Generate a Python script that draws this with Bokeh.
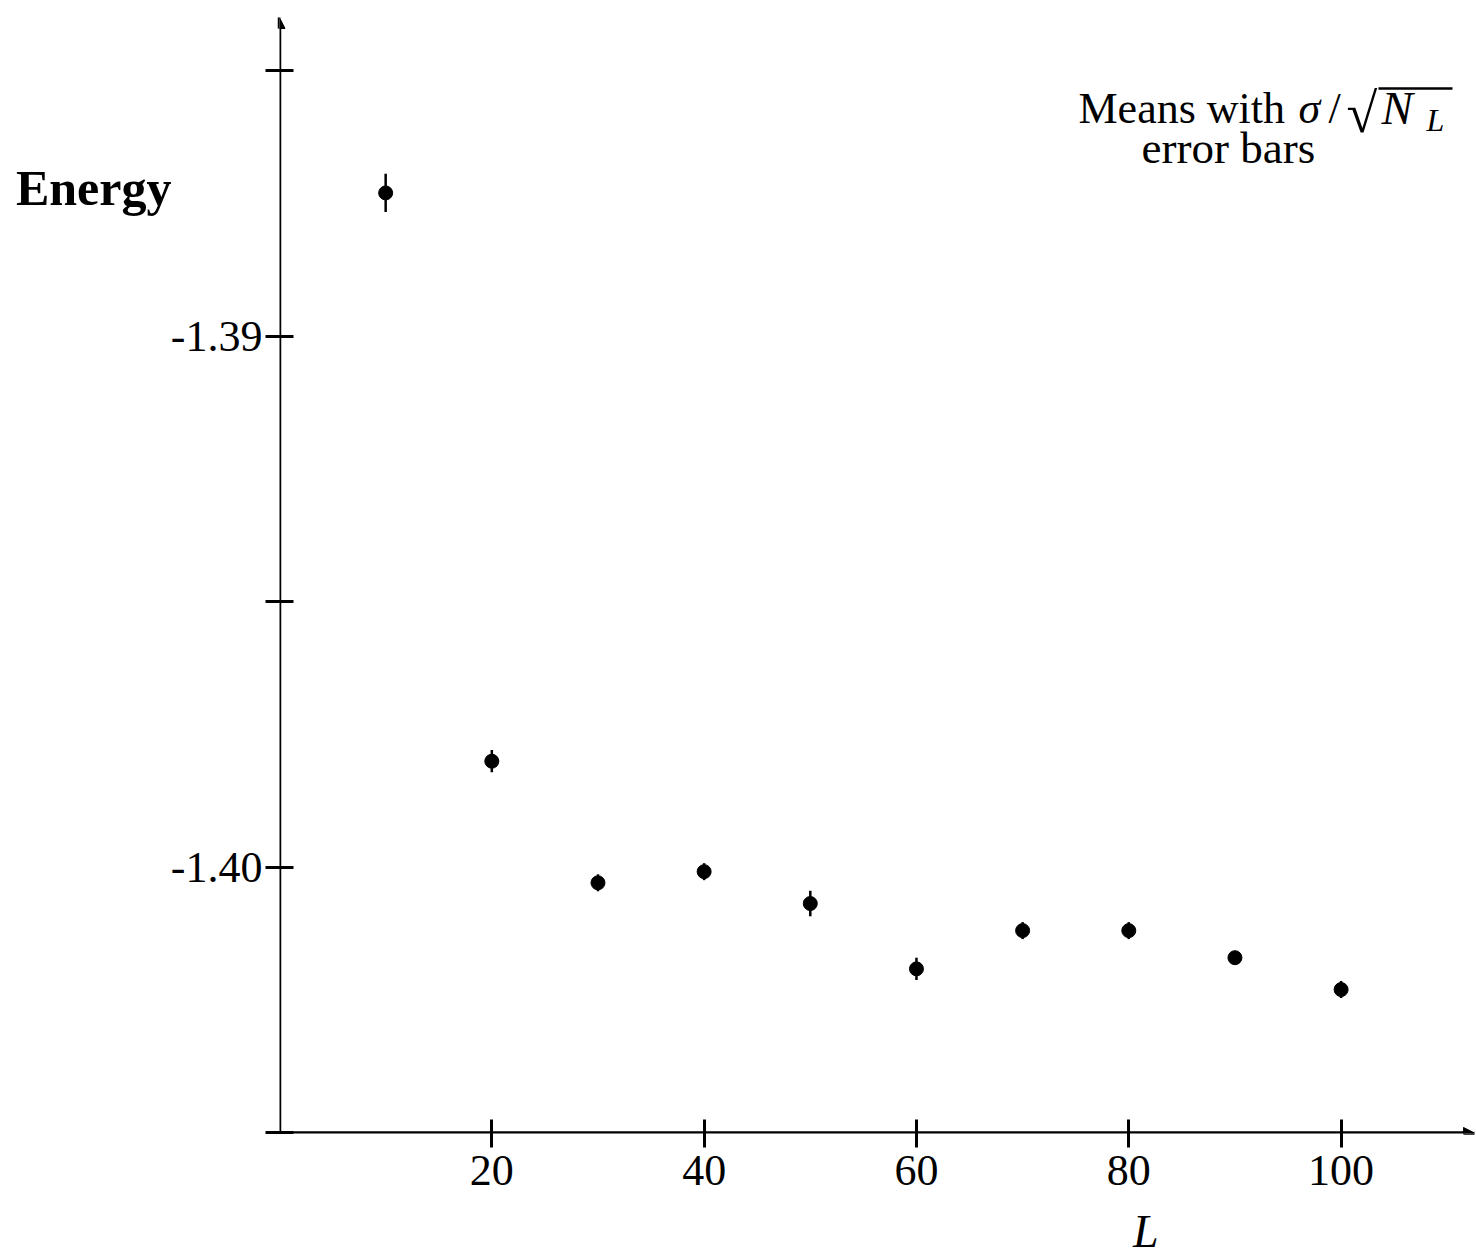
from bokeh.plotting import figure
from bokeh.models import (Range1d, FixedTicker, Label, Arrow, NormalHead,
                          PrintfTickFormatter, LinearAxis)
from bokeh.embed import file_html
from bokeh.resources import INLINE

# ---- data ----
L_values = [10, 20, 30, 40, 50, 60, 70, 80, 90, 100]
energy_means = [-1.38730, -1.39800, -1.40029, -1.40008, -1.40068,
                -1.40191, -1.40119, -1.40119, -1.40170, -1.40230]
energy_errors = [0.00036, 0.00021, 0.00016, 0.00016, 0.00024,
                 0.00021, 0.00016, 0.00016, 0.00010, 0.00016]
x_ticks = [20, 40, 60, 80, 100]
y_major_ticks = [-1.39, -1.40]
y_minor_ticks = [-1.385, -1.395, -1.405]
y_label_text = "Energy"
y_label_at = -1.3872
x_label_text = "L"
x_label_at = 81.6

# ---- layout ----
W, H = 1476, 1260
BL, BR, BT, BB = 279, 2, 17, 127
X0 = 0.0
X1 = (W - BL - BR) / 10.616
Y0 = -1.40501
Y1 = Y0 + (H - BT - BB) / 53110.0
FONT = "Liberation Serif"

def fx(px):  # pixel x -> data x (for text placement)
    return X0 + (px - BL) / (W - BL - BR) * (X1 - X0)

def fy(py):  # pixel y -> data y (for text placement)
    return Y1 - (py - BT) / (H - BT - BB) * (Y1 - Y0)

p = figure(width=W, height=H, x_range=Range1d(X0, X1), y_range=Range1d(Y0, Y1),
           output_backend="svg", toolbar_location=None,
           min_border_left=BL, min_border_right=BR, min_border_top=BT, min_border_bottom=BB)
p.title.visible = False
p.outline_line_color = None
p.xgrid.visible = False
p.ygrid.visible = False
p.background_fill_color = "white"
p.border_fill_color = "white"

# x axis
xa = p.xaxis[0]
xa.ticker = FixedTicker(ticks=x_ticks)
xa.formatter = PrintfTickFormatter(format="%d")
xa.axis_line_color = None
xa.major_tick_in = 14
xa.major_tick_out = 14
xa.major_tick_line_width = 3
xa.major_tick_line_color = "black"
xa.minor_tick_line_color = None
xa.major_label_text_font = FONT
xa.major_label_text_font_size = "44px"
xa.major_label_text_color = "black"
xa.major_label_standoff = 8

# y axis
ya = p.yaxis[0]
ya.ticker = FixedTicker(ticks=y_major_ticks, minor_ticks=y_minor_ticks)
ya.formatter = PrintfTickFormatter(format="%.2f")
ya.axis_line_color = None
ya.major_tick_in = 14
ya.major_tick_out = 14
ya.minor_tick_in = 14
ya.minor_tick_out = 14
ya.major_tick_line_width = 3
ya.minor_tick_line_width = 3
ya.major_tick_line_color = "black"
ya.minor_tick_line_color = "black"
ya.major_label_text_font = FONT
ya.major_label_text_font_size = "44px"
ya.major_label_text_color = "black"
ya.major_label_standoff = 3

# "Energy" label: an outer left axis with a single labelled tick
ey = LinearAxis(ticker=FixedTicker(ticks=[y_label_at]),
                formatter=PrintfTickFormatter(format=y_label_text))
ey.axis_line_color = None
ey.major_tick_line_color = None
ey.minor_tick_line_color = None
ey.major_label_standoff = -10
ey.major_label_text_font = FONT
ey.major_label_text_font_size = "50px"
ey.major_label_text_font_style = "bold"
ey.major_label_text_color = "black"
p.add_layout(ey, "left")

# "L" label: an outer bottom axis with a single labelled tick
ex = LinearAxis(ticker=FixedTicker(ticks=[x_label_at]),
                formatter=PrintfTickFormatter(format=x_label_text))
ex.axis_line_color = None
ex.major_tick_line_color = None
ex.minor_tick_line_color = None
ex.major_label_standoff = 12
ex.major_label_text_font = FONT
ex.major_label_text_font_size = "46px"
ex.major_label_text_font_style = "italic"
ex.major_label_text_color = "black"
p.add_layout(ex, "below")

# axis lines with arrow heads
p.add_layout(Arrow(end=NormalHead(size=11, fill_color="black", line_color="black", line_width=1),
                   x_start=0, y_start=Y0, x_end=0, y_end=Y1, line_width=3.5, line_color="black"))
p.add_layout(Arrow(end=NormalHead(size=11, fill_color="black", line_color="black", line_width=1),
                   x_start=0, y_start=-1.405, x_end=X1, y_end=-1.405, line_width=3.5, line_color="black"))

# error bars and means
lower = [m - e for m, e in zip(energy_means, energy_errors)]
upper = [m + e for m, e in zip(energy_means, energy_errors)]
p.segment(x0=L_values, y0=lower, x1=L_values, y1=upper, line_width=2.5, line_color="black")
p.scatter(L_values, energy_means, size=14, color="black")

# annotation text (inside the frame)
def lab(text, px, base, size, style="normal"):
    fs = float(size.replace("px", ""))
    p.add_layout(Label(x=fx(px), y=fy(base - 0.36 * fs), text=text, text_font=FONT,
                       text_font_size=size, text_font_style=style, text_align="left",
                       text_baseline="alphabetic", text_color="black"))

lab("Means with", 1078, 124, "44px")
lab("\u03c3", 1298, 124, "44px", "italic")
lab("/", 1328, 124, "44px")
lab("\u221a", 1346, 133, "56px")
lab("N", 1381, 124, "47px", "italic")
lab("L", 1426, 131, "32px", "italic")
lab("error bars", 1141, 164, "45px")
p.segment(x0=[fx(1378)], y0=[fy(88)], x1=[fx(1452)], y1=[fy(88)], line_width=2.5, line_color="black")

open("out.html", "w").write(file_html(p, INLINE))
